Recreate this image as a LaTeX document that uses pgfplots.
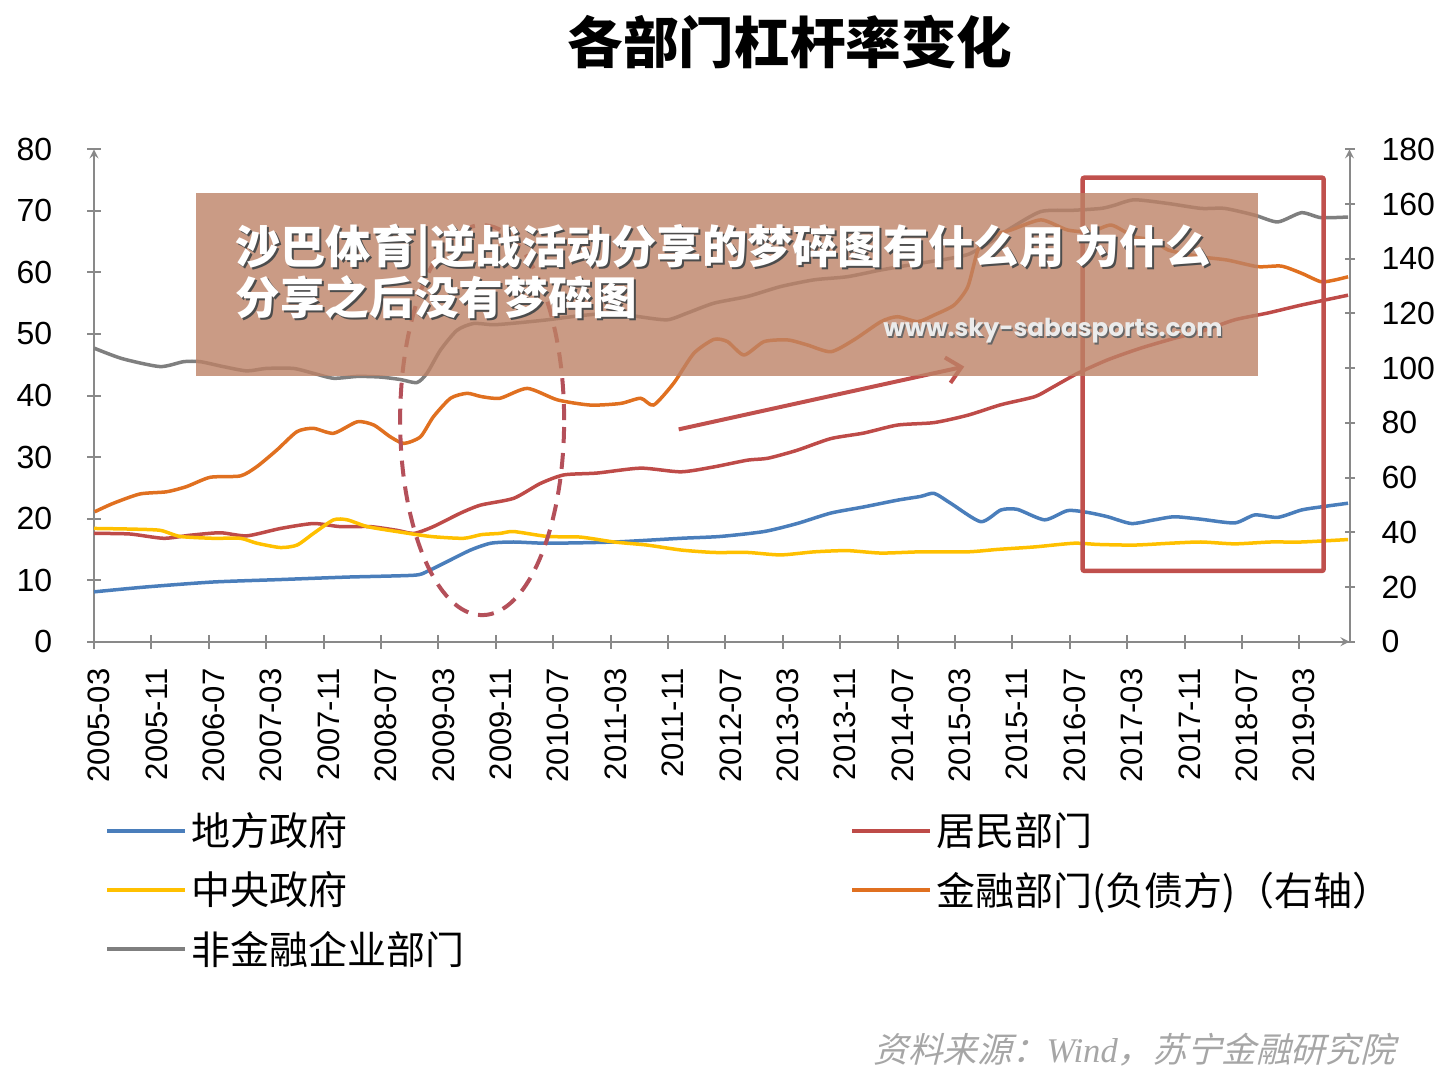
\documentclass[border=0pt]{standalone}
\usepackage{pgfplots}
\pgfplotsset{compat=1.18}
\usepackage{graphicx}
\usepackage{fontspec}
\usetikzlibrary{arrows.meta}
\setmainfont{Liberation Sans}
\newfontfamily\cjk{Noto Sans CJK SC}
\newfontfamily\srcfont{Noto Sans CJK SC}[FakeSlant=0.25]
\newfontfamily\srcserif{Liberation Serif}
\newfontfamily\urlfont{Poppins}
\definecolor{cblue}{HTML}{4A7EBB}
\definecolor{cred}{HTML}{BE4B48}
\definecolor{cyellow}{HTML}{FFC000}
\definecolor{cgrey}{HTML}{7F7F7F}
\definecolor{corange}{HTML}{E07020}
\definecolor{axgrey}{HTML}{898989}
\definecolor{annred}{HTML}{C0504D}
\definecolor{annpink}{HTML}{B4505A}
\definecolor{boxfill}{RGB}{189,130,102}
\definecolor{srcgrey}{HTML}{A6A6A6}

\pgfplotstableread{
m v
0 8.1
7.3 8.9
16.6 9.7
26 10.1
35.3 10.5
44.6 10.8
46.4 11.4
49.2 13.0
52.5 14.9
55.3 16.0
58.5 16.2
63.2 16.0
72.5 16.2
81.8 16.8
87.3 17.1
93.4 17.9
98 19.2
102.7 20.9
107.3 21.9
112 23.0
115.2 23.6
117.1 24.1
119.4 22.5
123.6 19.5
126.4 21.4
128.7 21.5
132.5 19.8
135.7 21.3
138.5 21.0
141.3 20.3
144.6 19.2
147.8 19.8
150.6 20.3
154.3 19.9
159 19.3
161.8 20.6
165 20.2
168.3 21.4
171 21.9
174.8 22.5
}\localgov

\pgfplotstableread{
m v
0 18.4
5 18.3
9.2 18.1
12 17.1
16.6 16.8
20.4 16.8
22.7 16.0
26 15.3
28.3 15.7
30.6 17.6
33.4 19.8
35.3 19.8
38.1 18.7
42.2 17.9
46.9 17.1
51.5 16.8
54 17.4
56.6 17.6
58.5 17.9
63.2 17.1
67.8 17.0
72.5 16.2
77.1 15.7
81.8 14.9
86.4 14.5
91.1 14.5
95.7 14.1
100.4 14.6
105 14.8
109.7 14.4
115.2 14.6
121.8 14.6
126 15.0
131.1 15.4
136.6 16.0
140 15.8
145 15.7
150 16.0
154.3 16.2
159 15.9
164 16.2
168.3 16.2
174.8 16.6
}\centralgov

\pgfplotstableread{
m v
0 47.7
3.9 46.0
9.2 44.7
12.5 45.5
14.8 45.5
18 44.7
21.3 44.0
24 44.4
27.8 44.4
30.6 43.6
33.4 42.8
36.7 43.1
39.9 43.0
42.7 42.6
45 42.1
46.4 43.6
48.3 47.4
50.6 50.6
52.9 51.7
55.7 51.5
59 51.8
63.2 52.3
68 53.0
72.5 53.4
76 52.8
79.9 52.3
82.7 53.4
86.4 55.0
91.1 56.1
95.7 57.7
100.4 58.8
105 59.3
109.7 60.4
115.2 61.5
119 62.2
122 63.0
125 65.0
127.8 67.2
132 69.9
136.6 70.1
140.4 70.4
142.2 70.9
145 71.8
149.7 71.2
154.3 70.4
157.6 70.4
161.8 69.3
165 68.2
168.3 69.7
171 68.9
174.8 69.0
}\corp

\pgfplotstableread{
m v
0 17.6
5 17.5
9.7 16.8
13.4 17.3
17.6 17.7
21.3 17.2
26 18.4
30.6 19.2
34.3 18.7
38.5 18.7
42.2 18.1
44.6 17.6
47.3 18.7
51.1 20.9
53.9 22.2
58.5 23.3
62.2 25.7
65.5 27.1
70.1 27.4
76.2 28.2
81.8 27.6
86.4 28.4
91.1 29.5
93.9 29.8
98 31.1
102.7 33.0
107.3 33.9
112 35.2
117.1 35.6
121.8 36.8
126.4 38.5
131.1 39.8
133.4 41.2
137.1 43.6
141.3 45.8
145.9 47.7
150.6 49.3
154.3 50.4
159 52.3
163.6 53.4
168.3 54.7
174.8 56.3
}\household

\pgfplotstableread{
m v
0.1 47.5
2.7 50.6
6.4 54.0
10.1 54.8
12.9 56.7
16.2 60.1
20.4 60.6
22.7 64.0
25.5 70.1
28.3 76.8
30.6 78.0
33.4 76.2
36.7 80.4
39 79.2
41.3 74.9
43.2 72.5
45.5 74.9
47.3 82.2
49.7 89.0
52 90.8
54 89.6
56.6 89.0
60.4 92.6
64.6 88.4
69.2 86.5
73.4 87.1
76.2 89.0
78 86.5
80.8 94.5
83.6 105.4
86.4 110.5
88.3 109.7
90.6 104.8
93.4 109.7
96.7 110.3
99.4 108.5
102.7 106.0
105.9 110.3
109.7 117.0
112 118.8
114.8 117.0
117.1 119.4
119.9 123.1
121.8 129.8
123.2 143.2
124.6 148.0
127.8 150.5
132 154.2
135.7 150.5
139 149.9
141.8 152.3
145 148.0
147.8 146.8
149.7 143.2
154.3 140.7
158 139.5
162.2 137.1
165.5 137.3
168.3 134.7
171 131.6
172.9 132.2
174.8 133.4
}\financial

\begin{document}
\begin{tikzpicture}
\pgfplotsset{
  common/.style={
    scale only axis, width=627.75pt, height=246.2pt,
    xmin=0, xmax=175,
    axis line style={-, draw=axgrey, line width=1pt},
    tick style={draw=axgrey, line width=1pt},
    tick align=outside,
    /pgf/number format/assume math mode=true,
    ticklabel style={font=\fontsize{16}{16}\selectfont, text=black},
    clip=false,
  },
  ser/.style={line width=1.75pt, line join=round, smooth, tension=0.4},
}
\begin{axis}[common,
  ymin=0, ymax=80,
  axis x line=bottom, axis y line=left,
  major tick length=6.8pt,
  xtick={0,8,...,168},
  xticklabels={2005-03,2005-11,2006-07,2007-03,2007-11,2008-07,2009-03,2009-11,2010-07,2011-03,2011-11,2012-07,2013-03,2013-11,2014-07,2015-03,2015-11,2016-07,2017-03,2017-11,2018-07,2019-03},
  x tick label style={rotate=90, anchor=east, font=\fontsize{15.5}{15.5}\selectfont, xshift=-6.5pt, yshift=-2.5pt},
  ytick={0,10,...,80},
  y tick label style={xshift=-14pt},
  legend columns=2,
  legend cell align=left,
  legend image code/.code={\draw[#1,line width=2pt] (0pt,0pt) -- (39pt,0pt);},
  legend style={draw=none, fill=none, at={(0.0088,-0.338)}, anchor=north west,
    inner sep=0pt, row sep=7.5pt,
    font=\cjk\fontsize{19.5}{19.5}\selectfont,
    nodes={inner sep=2pt},
    /tikz/every even column/.append style={column sep=191pt}},
]
\addplot[cblue, ser] table[x=m,y=v] {\localgov};
\addlegendentry{地方政府}
\addplot[cred, ser] table[x=m,y=v] {\household};
\addlegendentry{居民部门}
\addplot[cyellow, ser] table[x=m,y=v] {\centralgov};
\addlegendentry{中央政府}
\addlegendimage{corange}
\addlegendentry{金融部门(负债方)（右轴）}
\addplot[cgrey, ser] table[x=m,y=v] {\corp};
\addlegendentry{非金融企业部门}
\coordinate (O) at (rel axis cs:0,0);
\coordinate (E) at (axis cs:54.1,36.0);
\coordinate (A1) at (axis cs:81.5,34.5);
\coordinate (A2) at (axis cs:121.3,44.7);
\coordinate (R1) at (axis cs:137.8,11.5);
\coordinate (R2) at (axis cs:171.4,75.4);
\end{axis}
\begin{axis}[common,
  ymin=0, ymax=180,
  axis x line=none, axis y line=right,
  major tick length=5pt,
  xtick=\empty,
  ytick={0,20,...,180},
  y tick label style={xshift=10pt},
]
\addplot[corange, ser] table[x=m,y=v] {\financial};
\end{axis}

% annotations
\draw[annpink, line width=2pt, dash pattern=on 8pt off 5pt] (E) ellipse [x radius=41pt, y radius=97.5pt];
\draw[annred, line width=2pt, -{Straight Barb[length=7pt,width=13pt,line width=2pt]}] (A1) -- (A2);
\draw[annred, line width=2.3pt, rounded corners=1pt] (R1) rectangle (R2);

% overlay banner
\fill[boxfill, opacity=0.8] ([shift={(51pt,132.85pt)}]O) rectangle ([shift={(582pt,224.35pt)}]O);
\node[anchor=west, text=black!70, inner sep=0pt] at ([shift={(71.5pt,194.85pt)}]O) {\resizebox{487.5pt}{!}{\cjk\bfseries 沙巴体育|逆战活动分享的梦碎图有什么用\ 为什么}};
\node[anchor=west, text=white, inner sep=0pt] at ([shift={(70.5pt,195.85pt)}]O) {\resizebox{487.5pt}{!}{\cjk\bfseries 沙巴体育|逆战活动分享的梦碎图有什么用\ 为什么}};
\node[anchor=west, text=black!70, inner sep=0pt] at ([shift={(71.5pt,171.35pt)}]O) {\resizebox{201pt}{!}{\cjk\bfseries 分享之后没有梦碎图}};
\node[anchor=west, text=white, inner sep=0pt] at ([shift={(70.5pt,172.35pt)}]O) {\resizebox{201pt}{!}{\cjk\bfseries 分享之后没有梦碎图}};
\node[anchor=west, text=black!60, inner sep=0pt] at ([shift={(395.2pt,154.65pt)}]O) {\resizebox{169.5pt}{!}{\urlfont\bfseries www.sky-sabasports.com}};
\node[anchor=west, text=white!92!black, inner sep=0pt] at ([shift={(394.5pt,155.35pt)}]O) {\resizebox{169.5pt}{!}{\urlfont\bfseries www.sky-sabasports.com}};

% title
\node[inner sep=0pt] at ([shift={(348pt,299.85pt)}]O) {\cjk\bfseries\fontsize{27.8}{27.8}\selectfont 各部门杠杆率变化};
% source
\node[anchor=east, inner sep=0pt, text=srcgrey] at ([shift={(650.5pt,-204.15pt)}]O) {\fontsize{17.3}{17.3}\selectfont\srcfont 资料来源：{\srcserif\itshape Wind}，苏宁金融研究院};

\pgfresetboundingbox
\useasboundingbox ([shift={(-47pt,-217.15pt)}]O) rectangle ([shift={(680pt,320.85pt)}]O);
\end{tikzpicture}
\end{document}
